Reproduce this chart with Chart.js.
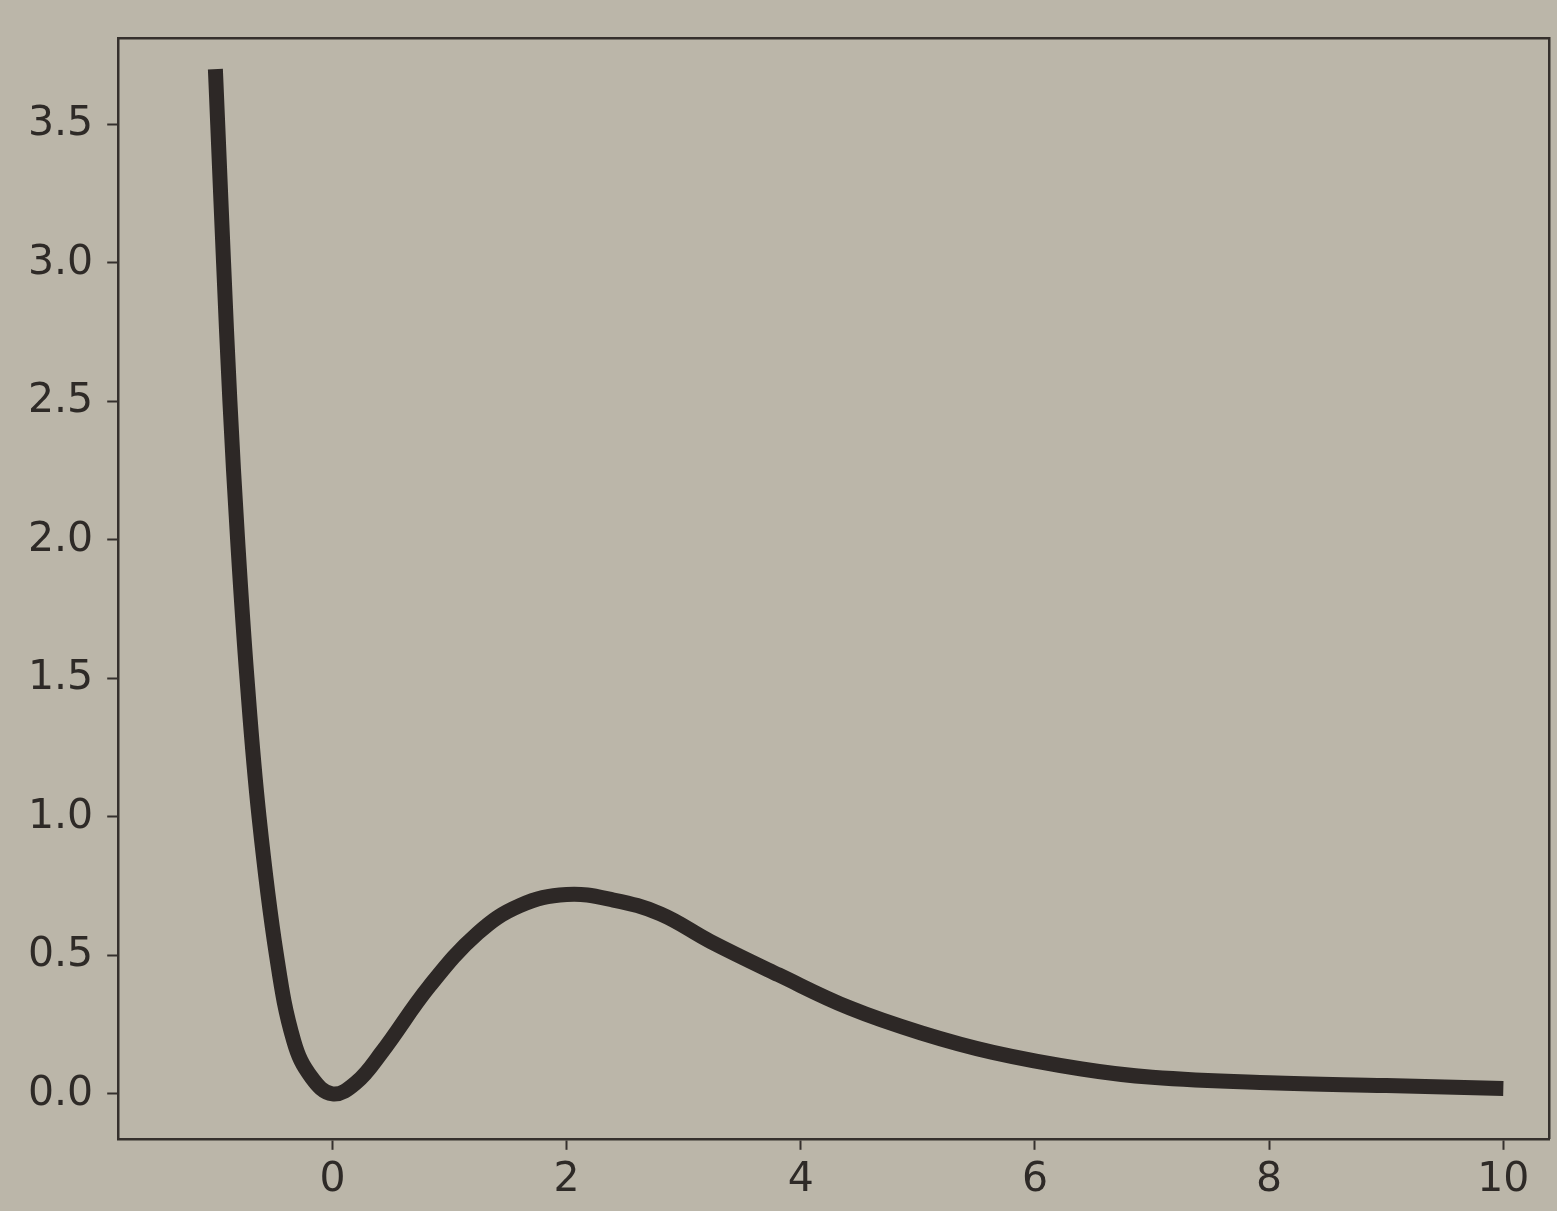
<!DOCTYPE html>
<html>
<head>
<meta charset="utf-8">
<script src="https://cdn.jsdelivr.net/npm/chart.js@4/dist/chart.umd.min.js"></script>
<style>
  html, body { margin: 0; padding: 0; background: #bbb6a9; }
  #wrap { width: 1557px; height: 1211px; position: relative; }
</style>
</head>
<body>
<div id="wrap"><canvas id="c" width="1557" height="1211"></canvas></div>
<script>
// Values
const xValues = [-1.0, -0.98, -0.93, -0.876, -0.81, -0.73, -0.627, -0.478, -0.33, -0.18, 0.0, 0.2, 0.42, 0.83, 1.24, 1.6, 2.0, 2.4, 2.8, 3.23, 3.81, 4.42, 5.03, 5.64, 6.4, 7.0, 8.0, 9.0, 10.0];
const yValues = [3.70, 3.50, 3.00, 2.50, 2.00, 1.50, 1.00, 0.50, 0.19, 0.06, 0.0, 0.04, 0.15, 0.39, 0.58, 0.68, 0.72, 0.70, 0.65, 0.55, 0.43, 0.31, 0.22, 0.15, 0.09, 0.06, 0.04, 0.03, 0.02];
const xTicks = [0, 2, 4, 6, 8, 10];
const yTicks = [0.0, 0.5, 1.0, 1.5, 2.0, 2.5, 3.0, 3.5];

const points = xValues.map((x, i) => ({ x: x, y: yValues[i] }));
const ink = '#35302d';
const font = { family: '"DejaVu Sans", sans-serif', size: 41 };

new Chart(document.getElementById('c'), {
  type: 'line',
  data: {
    datasets: [{
      data: points,
      borderColor: '#2d2826',
      borderWidth: 15,
      borderCapStyle: 'butt',
      borderJoinStyle: 'round',
      pointRadius: 0,
      fill: false,
      tension: 0.4
    }]
  },
  options: {
    responsive: false,
    animation: false,
    layout: { padding: { left: 14, top: 20, right: 0, bottom: 0 } },
    plugins: { legend: { display: false }, tooltip: { enabled: false } },
    scales: {
      x: {
        type: 'linear',
        position: 'bottom',
        min: -1.83, max: 10.39,
        afterBuildTicks: (axis) => { axis.ticks = xTicks.map(v => ({ value: v })); },
        grid: { display: true, drawOnChartArea: false, tickLength: 11, tickWidth: 2, tickColor: ink },
        border: { display: true, color: ink, width: 2.5 },
        ticks: { color: '#2e2a27', font: font, padding: 6, maxRotation: 0, callback: (v) => String(v) }
      },
      x2: {
        type: 'linear',
        position: 'top',
        min: -1.83, max: 10.39,
        grid: { display: false },
        border: { display: true, color: ink, width: 2.5 },
        ticks: { display: false }
      },
      y: {
        type: 'linear',
        position: 'left',
        min: -0.162, max: 3.81,
        afterBuildTicks: (axis) => { axis.ticks = yTicks.map(v => ({ value: v })); },
        grid: { display: true, drawOnChartArea: false, tickLength: 11, tickWidth: 2, tickColor: ink },
        border: { display: true, color: ink, width: 2.5 },
        ticks: { color: '#2e2a27', font: font, padding: 14, callback: (v) => Number(v).toFixed(1) }
      },
      y2: {
        type: 'linear',
        position: 'right',
        min: -0.162, max: 3.81,
        grid: { display: false },
        border: { display: true, color: ink, width: 2.5 },
        ticks: { display: false }
      }
    }
  }
});
</script>
</body>
</html>
